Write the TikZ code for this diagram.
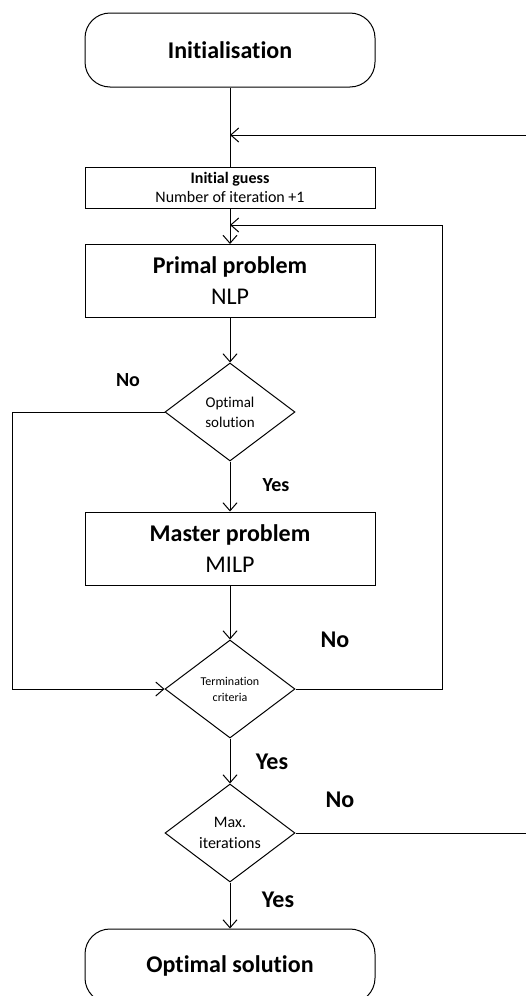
\documentclass[tikz,border=0pt]{standalone}
\usepackage{fontspec}
\setmainfont{Carlito}[Ligatures={NoCommon}]
\usetikzlibrary{arrows.meta,shapes.geometric}
\tikzstyle{terminal}=[draw,rectangle,rounded corners=25pt,minimum width=290pt,minimum height=74pt,font=\fontsize{24}{29}\selectfont\bfseries]
\tikzstyle{process}=[draw,rectangle,minimum width=290pt,minimum height=73pt,align=center,font=\fontsize{24}{31}\selectfont]
\tikzstyle{small process}=[process,minimum height=41pt,inner sep=0pt,font=\fontsize{16}{19}\selectfont]
\tikzstyle{decision}=[draw,diamond,aspect=1.33,minimum width=130pt,minimum height=98pt,inner sep=0pt,align=center]
\tikzstyle{arrow}=[draw,-{Straight Barb[length=8pt,width=14pt]}]
\tikzstyle{answer}=[font=\fontsize{24}{29}\selectfont\bfseries]

\begin{document}
\begin{tikzpicture}[x=1pt,y=-1pt,line width=1pt]
    \useasboundingbox (0,0) rectangle (526,996);
    \clip (0,0) rectangle (526,996);
    % blocks
    \node[terminal] (init) at (230,50) {Initialisation};
    \node[small process] (guess) at (230,187.5) {\textbf{Initial guess}\\Number of iteration +1};
    \node[process] (primal) at (230,281) {\textbf{Primal problem}\\NLP};
    \node[decision,font=\fontsize{15}{20}\selectfont] (optsol) at (230,412) {Optimal\\solution};
    \node[process] (master) at (230,548.5) {\textbf{Master problem}\\MILP};
    \node[decision,font=\fontsize{12}{16}\selectfont] (term) at (230,689) {Termination\\criteria};
    \node[decision,font=\fontsize{16}{21}\selectfont] (maxit) at (230,833) {Max.\\iterations};
    \node[terminal] (final) at (230,966) {Optimal solution};
    % entry points on the main line
    \coordinate (entry1) at (230,135);
    \coordinate (entry2) at (230,225);
    % answers
    \node[answer,font=\fontsize{20}{24}\selectfont\bfseries] (no1) at (128,380) {No};
    \node[answer,font=\fontsize{20}{24}\selectfont\bfseries] (yes1) at (276,485) {Yes};
    \node[answer] (no2) at (335,640) {No};
    \node[answer] (yes2) at (272,762) {Yes};
    \node[answer] (no3) at (340,800) {No};
    \node[answer] (yes3) at (278,900) {Yes};
    % connectors
    \draw (init) -- (guess);
    \foreach \source/\dest in {guess/primal, primal/optsol, optsol/master, master/term, term/maxit, maxit/final}
        \path[arrow] (\source) -- (\dest);
    \path[arrow] (optsol.west) -| (12,689) -- (term.west);
    \path[arrow] (term.east) -| (442,225) -- (entry2);
    \path[arrow] (maxit.east) -| (540,135) -- (entry1);
\end{tikzpicture}
\end{document}
